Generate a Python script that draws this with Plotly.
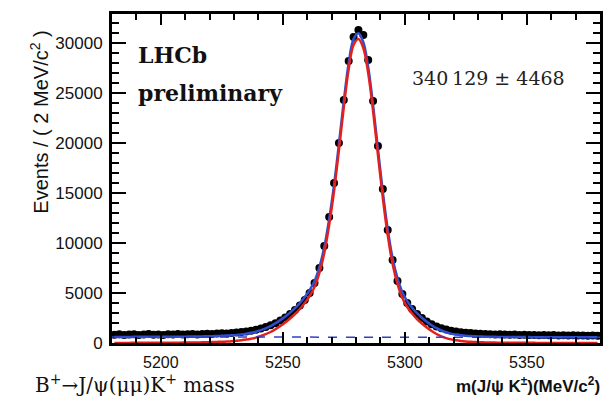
import plotly.graph_objects as go
import numpy as np

# ---- data ----
MASS = list(range(5181, 5380, 2))  # 2 MeV bin centres, 5180-5380

EVENTS = [
    820, 870, 790, 850, 880, 800, 840, 900, 830, 860,
    810, 880, 850, 900, 840, 870, 910, 860, 900, 930,
    890, 950, 980, 940, 1010, 1050, 1100, 1150, 1230, 1330,
    1450, 1600, 1780, 1980, 2250, 2550, 2900, 3300, 3750, 4300,
    5000, 6000, 7500, 9700, 12600, 16000, 20000, 24300, 28200, 30600,
    31300, 30800, 28300, 24200, 19700, 15400, 11300, 8300, 6200, 4900,
    4000, 3400, 2900, 2500, 2150, 1880, 1650, 1480, 1340, 1230,
    1150, 1080, 1030, 990, 950, 920, 900, 880, 860, 870,
    840, 820, 850, 800, 820, 790, 810, 780, 800, 770,
    790, 760, 780, 750, 770, 740, 760, 730, 750, 720,
]

SIGNAL = [
    10, 10, 12, 12, 14, 15, 16, 18, 20, 22,
    24, 27, 30, 34, 38, 43, 50, 57, 66, 77,
    90, 105, 125, 150, 180, 220, 270, 340, 430, 540,
    700, 880, 1100, 1380, 1700, 2050, 2450, 2900, 3400, 4000,
    4700, 5600, 7000, 9000, 11800, 15200, 19300, 23600, 27400, 29800,
    30400, 29500, 27000, 23200, 18800, 14500, 10800, 7900, 5900, 4500,
    3600, 2950, 2400, 1950, 1550, 1200, 900, 670, 490, 360,
    270, 200, 150, 115, 90, 72, 58, 47, 39, 33,
    28, 24, 21, 18, 16, 14, 13, 12, 11, 10,
    10, 9, 9, 8, 8, 7, 7, 6, 6, 6,
]

BKG_MASS = [5180, 5380]
BKG_LEVEL = [600, 570]

X_TICKS = [5200, 5250, 5300, 5350]
Y_TICKS = [0, 5000, 10000, 15000, 20000, 25000, 30000]

YIELD_TEXT = "340\u2009129 ± 4468"

# ---- derived ----
bkg_at_bins = np.interp(MASS, BKG_MASS, BKG_LEVEL)
TOTAL = (np.array(SIGNAL) + bkg_at_bins).tolist()

fig = go.Figure()

fig.add_trace(go.Scatter(
    x=MASS, y=EVENTS, mode="markers",
    marker=dict(color="black", size=8),
    showlegend=False, cliponaxis=True,
))
fig.add_trace(go.Scatter(
    x=MASS, y=TOTAL, mode="lines",
    line=dict(color="#2f4fd0", width=2.5, shape="spline", smoothing=1.0),
    showlegend=False,
))
fig.add_trace(go.Scatter(
    x=MASS, y=SIGNAL, mode="lines",
    line=dict(color="#e4201c", width=2.5, shape="spline", smoothing=1.0),
    showlegend=False,
))
fig.add_trace(go.Scatter(
    x=BKG_MASS, y=BKG_LEVEL, mode="lines",
    line=dict(color="#3040c8", width=1.5, dash="dash"),
    showlegend=False,
))

tick_font = dict(family="Liberation Sans, Arial, sans-serif", size=16, color="#111")

fig.update_xaxes(
    range=[5180, 5380], tickvals=X_TICKS, ticktext=[str(v) for v in X_TICKS],
    ticks="inside", ticklen=11, tickwidth=2, tickcolor="black",
    minor=dict(dtick=10, tick0=5200, ticks="inside", ticklen=6, tickwidth=1.5, tickcolor="black"),
    showline=True, linecolor="black", linewidth=3, mirror="allticks",
    showgrid=False, zeroline=False, tickfont=tick_font, ticklabelstandoff=3,
)
fig.update_yaxes(
    range=[0, 32900], tickvals=Y_TICKS, ticktext=[str(v) for v in Y_TICKS],
    ticks="inside", ticklen=14, tickwidth=2, tickcolor="black",
    minor=dict(dtick=1000, tick0=0, ticks="inside", ticklen=7, tickwidth=1.5, tickcolor="black"),
    showline=True, linecolor="black", linewidth=3, mirror="allticks",
    showgrid=False, zeroline=False,
    tickfont=dict(family="Liberation Sans, Arial, sans-serif", size=17, color="#111"),
    ticklabelstandoff=3,
)

annotations = [
    dict(text="Events / ( 2 MeV/c<sup>2</sup> )", x=-0.148, y=0.672, textangle=-90,
         xanchor="center", yanchor="middle",
         font=dict(family="Liberation Sans, Arial, sans-serif", size=20, color="#111")),
    dict(text="<b>LHCb</b>", x=0.0489, y=0.875, xanchor="left", yanchor="middle",
         font=dict(family="DejaVu Serif, serif", size=22, color="#111")),
    dict(text="<b>preliminary</b>", x=0.0489, y=0.760, xanchor="left", yanchor="middle",
         font=dict(family="DejaVu Serif, serif", size=22, color="#111")),
    dict(text=YIELD_TEXT, x=0.611, y=0.805, xanchor="left", yanchor="middle",
         font=dict(family="DejaVu Serif, serif", size=19, color="#222")),
    dict(text="B<sup>+</sup>→J/ψ(μμ)K<sup>+</sup> mass", x=-0.161, y=-0.170, xanchor="left",
         yanchor="bottom",
         font=dict(family="DejaVu Serif, serif", size=20, color="#111")),
    dict(text="<b>m(J/ψ K<sup>±</sup>)(MeV/c<sup>2</sup>)</b>", x=1.004, y=-0.168, xanchor="right",
         yanchor="bottom",
         font=dict(family="Liberation Sans, Arial, sans-serif", size=17, color="#111")),
]
for a in annotations:
    a.update(xref="paper", yref="paper", showarrow=False)

fig.update_layout(
    width=606, height=398,
    margin=dict(l=112, r=3, t=14, b=55),
    paper_bgcolor="white", plot_bgcolor="white",
    annotations=annotations,
    showlegend=False,
)

fig.write_html("out.html")
